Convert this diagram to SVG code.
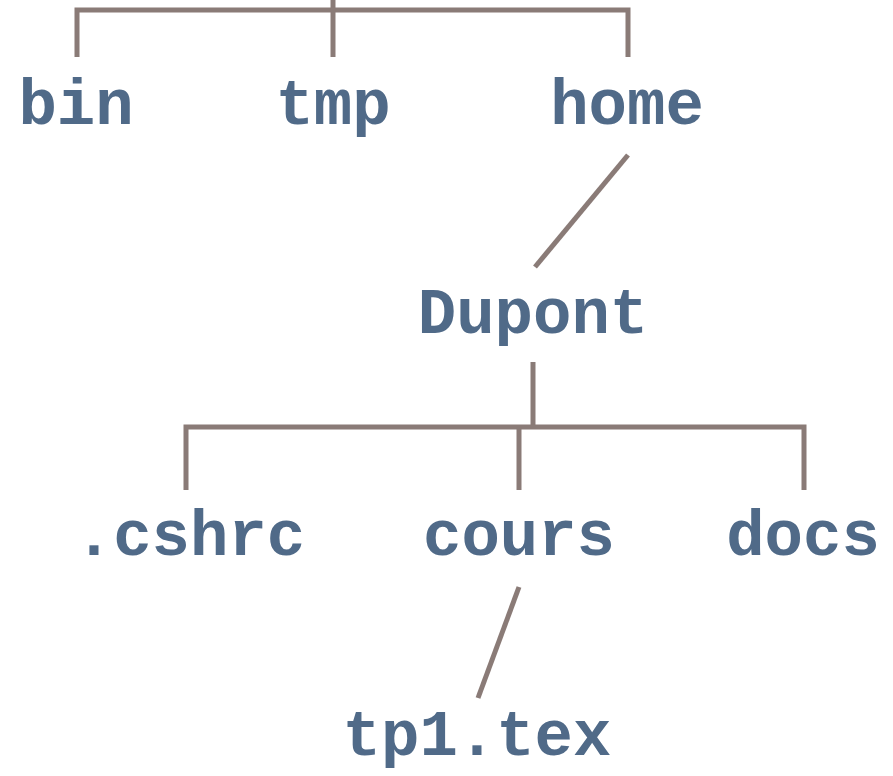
<svg xmlns="http://www.w3.org/2000/svg" width="893" height="776" viewBox="0 0 893 776">
  <style>
    .lbl { font-family: "Liberation Mono", "Courier New", monospace; font-weight: bold; font-size: 64px; fill: #506a88; text-anchor: middle; }
    .edge { stroke: #8a7b77; stroke-width: 5; fill: none; }
  </style>
  <rect width="893" height="776" fill="#ffffff"/>
  <g id="connectors">
    <polyline class="edge" points="77,57 77,10 628,10 628,57"/>
    <line class="edge" x1="333" y1="0" x2="333" y2="57"/>
    <line class="edge" x1="628" y1="155" x2="535" y2="267"/>
    <line class="edge" x1="533" y1="362" x2="533" y2="427"/>
    <polyline class="edge" points="186,490 186,427 804,427 804,490"/>
    <line class="edge" x1="519" y1="427" x2="519" y2="490"/>
    <line class="edge" x1="519" y1="587" x2="478" y2="698"/>
  </g>
  <g id="bin"><text class="lbl" x="76" y="124">bin</text></g>
  <g id="tmp"><text class="lbl" x="333" y="124">tmp</text></g>
  <g id="home"><text class="lbl" x="627" y="124">home</text></g>
  <g id="dupont"><text class="lbl" x="533" y="333">Dupont</text></g>
  <g id="cshrc"><text class="lbl" x="190" y="555">.cshrc</text></g>
  <g id="cours"><text class="lbl" x="519" y="555">cours</text></g>
  <g id="docs"><text class="lbl" x="803" y="555">docs</text></g>
  <g id="tp1"><text class="lbl" x="477" y="755">tp1.tex</text></g>
</svg>
